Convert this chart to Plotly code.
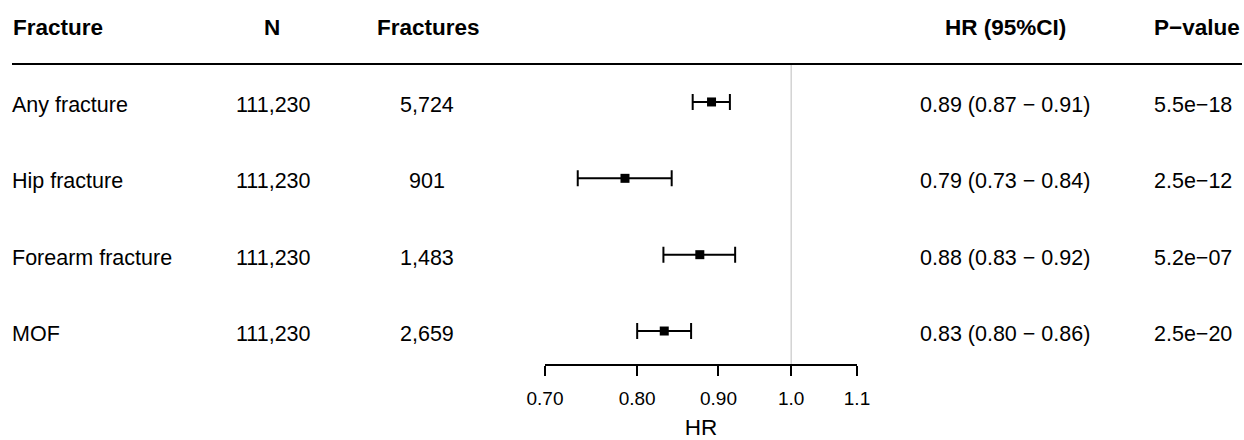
import math
import plotly.graph_objects as go

# ---------------- data ----------------
categories = ["Any fracture", "Hip fracture", "Forearm fracture", "MOF"]
n_total = [111230, 111230, 111230, 111230]
n_fractures = [5724, 901, 1483, 2659]
hr = [0.891, 0.786, 0.876, 0.832]
ci_low = [0.867, 0.734, 0.831, 0.800]
ci_high = [0.915, 0.841, 0.922, 0.865]
hr_labels = ["0.89 (0.87 \u2212 0.91)", "0.79 (0.73 \u2212 0.84)",
             "0.88 (0.83 \u2212 0.92)", "0.83 (0.80 \u2212 0.86)"]
p_labels = ["5.5e\u221218", "2.5e\u221212", "5.2e\u221207", "2.5e\u221220"]
headers = ["Fracture", "N", "Fractures", "HR (95%CI)", "P\u2212value"]
tick_vals = [0.70, 0.80, 0.90, 1.0, 1.1]
tick_text = ["0.70", "0.80", "0.90", "1.0", "1.1"]
ref_value = 1.0

# ---------------- layout constants ----------------
W, H = 1244, 440
FONT = "Liberation Sans, Arial, Helvetica, sans-serif"
rows = list(range(len(categories)))

def px_x(p):
    return p / W

def px_y(p):
    return 1 - p / H

fig = go.Figure()

# reference line at HR = 1
fig.add_trace(go.Scatter(
    x=[ref_value, ref_value], y=[-0.5, 3.445], mode="lines",
    line=dict(color="#d3d3d3", width=1.5), hoverinfo="skip", showlegend=False,
    cliponaxis=False,
))

# point estimates with CIs
fig.add_trace(go.Scatter(
    x=hr, y=rows, mode="markers",
    marker=dict(symbol="square", size=9, color="black"),
    error_x=dict(type="data", symmetric=False,
                 array=[h - m for h, m in zip(ci_high, hr)],
                 arrayminus=[m - l for m, l in zip(hr, ci_low)],
                 color="black", thickness=2, width=8),
    showlegend=False, cliponaxis=False,
))

annotations = []
# headers
hdr_specs = [(11, "left"), (272, "center"), (428, "center"), (1005, "center"), (1197, "center")]
for text, (xp, anchor) in zip(headers, hdr_specs):
    annotations.append(dict(
        text="<b>%s</b>" % text, xref="paper", yref="paper",
        x=px_x(xp), y=px_y(28), xanchor=anchor, yanchor="middle",
        showarrow=False, font=dict(family=FONT, size=22.5, color="black"),
    ))

# table body
for i, r in enumerate(rows):
    cols = [
        (categories[i], 10, "left"),
        (f"{n_total[i]:,}", 273, "center"),
        (f"{n_fractures[i]:,}", 427, "center"),
        (hr_labels[i], 1005, "center"),
        (p_labels[i], 1193, "center"),
    ]
    for text, xp, anchor in cols:
        annotations.append(dict(
            text=text, xref="paper", yref="y", x=px_x(xp), y=r,
            xanchor=anchor, yanchor="middle", yshift=-3,
            showarrow=False, font=dict(family=FONT, size=21.5, color="black"),
        ))

fig.update_layout(
    width=W, height=H,
    margin=dict(l=0, r=0, t=0, b=0, autoexpand=False),
    paper_bgcolor="white", plot_bgcolor="white",
    font=dict(family=FONT, color="black"),
    annotations=annotations,
    shapes=[dict(type="line", xref="paper", yref="paper",
                 x0=px_x(12), x1=px_x(1242), y0=px_y(64), y1=px_y(64),
                 line=dict(color="black", width=2))],
    xaxis=dict(
        type="log", automargin=False,
        range=[math.log10(tick_vals[0]), math.log10(tick_vals[-1])],
        domain=[px_x(545), px_x(857)],
        anchor="free", position=px_y(365),
        showline=True, linecolor="black", linewidth=1.5,
        ticks="outside", ticklen=10, tickwidth=1.5, tickcolor="black",
        tickvals=tick_vals, ticktext=tick_text, ticklabelstandoff=6,
        tickfont=dict(family=FONT, size=19, color="black"),
        showgrid=False, zeroline=False,
        title=dict(text="HR", font=dict(family=FONT, size=22.5, color="black"), standoff=13),
    ),
    yaxis=dict(
        automargin=False,
        range=[3.5, -0.5], domain=[px_y(369.2), px_y(63.8)],
        visible=False, showgrid=False, zeroline=False,
    ),
)

fig.write_html(
    "out.html",
    config={"displayModeBar": False},
    post_script="document.body.style.margin='0';document.body.style.overflow='hidden';",
)
